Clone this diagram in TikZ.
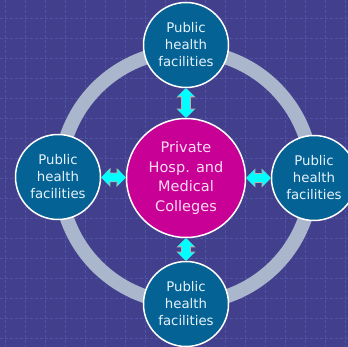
\documentclass[tikz,border=0pt]{standalone}
\usepackage{fontspec}
\setmainfont{DejaVu Sans}
\usetikzlibrary{arrows.meta}
\definecolor{bgblue}{RGB}{66,64,140}
\definecolor{gridblue}{RGB}{80,84,164}
\definecolor{ringgray}{RGB}{170,182,204}
\definecolor{pubteal}{RGB}{4,98,148}
\definecolor{privmag}{RGB}{200,0,150}
\definecolor{arrcyan}{RGB}{0,255,255}
\definecolor{pubtext}{RGB}{230,242,252}
\definecolor{privtext}{RGB}{252,220,242}
\tikzset{
  pubnode/.style={circle, draw=white, line width=1.5pt, fill=pubteal, minimum size=85pt, inner sep=0pt,
    align=center, text=pubtext, font=\fontsize{13.3}{17}\selectfont},
  privnode/.style={circle, draw=white, line width=1.5pt, fill=privmag, minimum size=119pt, inner sep=0pt,
    align=center, text=privtext, font=\fontsize{14.5}{19.5}\selectfont},
  dblarrow/.style={draw=arrcyan, line width=8pt,
    {Triangle[width=16pt,length=8pt]}-{Triangle[width=16pt,length=8pt]},
    preaction={draw=gray!60, line width=9.5pt, {Triangle[width=18.5pt,length=9.2pt]}-{Triangle[width=18.5pt,length=9.2pt]}}}
}
\begin{document}
\begin{tikzpicture}[x=1pt,y=-1pt]
		\useasboundingbox (0,0) rectangle (348,347);
		\clip (0,0) rectangle (348,347);
		\fill[bgblue] (0,0) rectangle (348,347);
		
		% dashed grid
		\foreach \gx in {5,25,...,345} \draw[gridblue, line width=0.5pt, dash pattern=on 3pt off 2pt] (\gx,0) -- (\gx,347);
		\foreach \gy in {18,38,...,338} \draw[gridblue, line width=0.5pt, dash pattern=on 3pt off 2pt] (0,\gy) -- (348,\gy);
		
		\draw[ringgray, line width=14pt] (186,177) circle (126);
		
		\node[privnode] (mid) at (186,178) {Private\\Hosp. and\\Medical\\Colleges};
		\node[pubnode] (top) at (186,45) {Public\\health\\facilities};
		\node[pubnode] (bot) at (186,304) {Public\\health\\facilities};
		\node[pubnode] (lft) at (58,177) {Public\\health\\facilities};
		\node[pubnode] (rgt) at (314,178) {Public\\health\\facilities};
		
		\draw[dblarrow] (top) -- (mid);
		\draw[dblarrow] (mid) -- (bot);
		\draw[dblarrow] (lft) -- (mid);
		\draw[dblarrow] (mid) -- (rgt);
	\end{tikzpicture}
\end{document}
